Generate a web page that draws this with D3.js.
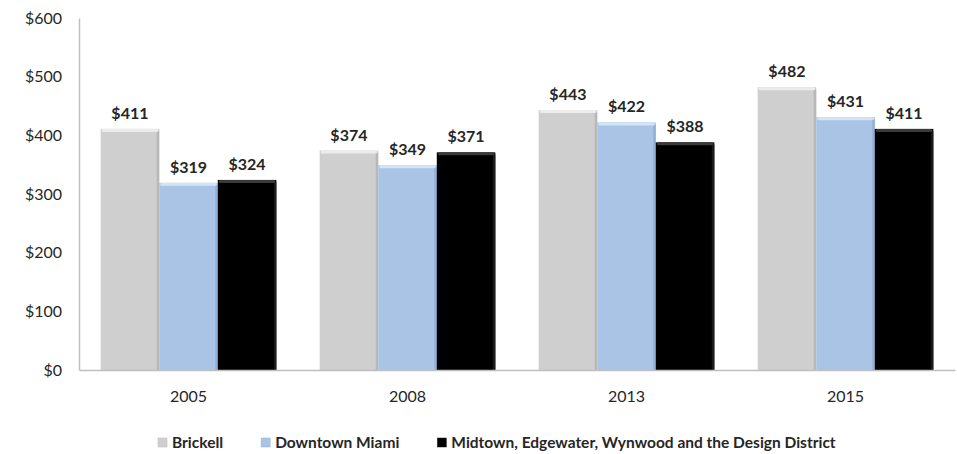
<!DOCTYPE html>
<html>
<head>
<meta charset="utf-8">
<script src="https://cdn.jsdelivr.net/npm/d3@7"></script>
<style>
  body { margin: 0; background: #fff; }
  text { font-family: Lato, "Open Sans", sans-serif; fill: #262626; }
</style>
</head>
<body>
<div id="chart-area"></div>
<script>
// chart data
var years = ["2005", "2008", "2013", "2015"];
var seriesNames = ["Brickell", "Downtown Miami", "Midtown, Edgewater, Wynwood and the Design District"];
var brickell = [411, 374, 443, 482];
var downtown = [319, 349, 422, 431];
var midtown = [324, 371, 388, 411];
var yTicks = [0, 100, 200, 300, 400, 500, 600];

var seriesValues = [brickell, downtown, midtown];

// colours per series: fill, top edge, side shade
var colors = [
  { fill: "#cfcfcf", top: "#ececec", side: "#b8b8b8" },
  { fill: "#a9c4e5", top: "#d3e4f5", side: "#92b1d8" },
  { fill: "#000000", top: "#3a3a3a", side: "#1a1a1a" }
];

var margin = { left: 79, right: 2, top: 18, bottom: 84 };
var width = 957 - margin.left - margin.right;
var height = 454 - margin.top - margin.bottom;

var svg = d3.select("#chart-area").append("svg")
  .attr("width", 957)
  .attr("height", 454);

var g = svg.append("g")
  .attr("transform", "translate(" + margin.left + "," + margin.top + ")");

// X scales
var x0 = d3.scaleBand()
  .domain(years)
  .range([0, width])
  .paddingInner(0)
  .paddingOuter(0);

var x1 = d3.scaleBand()
  .domain(d3.range(seriesNames.length))
  .range([0, x0.bandwidth()])
  .paddingInner(0)
  .paddingOuter(0.37);

// Y scale
var y = d3.scaleLinear()
  .domain([0, 600])
  .range([height, 0]);

// Y axis
var yAxisCall = d3.axisLeft(y)
  .tickValues(yTicks)
  .tickSize(0)
  .tickPadding(17)
  .tickFormat(function(d) { return "$" + d; });
var yAxis = g.append("g")
  .attr("class", "y axis")
  .call(yAxisCall);
yAxis.select(".domain").attr("stroke", "#bfbfbf").attr("stroke-width", 1.5);
yAxis.selectAll("text")
  .attr("font-size", "16px")
  .style("font-family", "Lato, 'Open Sans', sans-serif")
  .attr("fill", "#222");

// bars
var rows = [];
years.forEach(function(yr, i) {
  seriesValues.forEach(function(vals, s) {
    rows.push({ year: yr, s: s, value: vals[i] });
  });
});

var bars = g.selectAll("g.bar")
  .data(rows)
  .enter()
  .append("g")
  .attr("class", "bar")
  .attr("transform", function(d) {
    return "translate(" + (x0(d.year) + x1(d.s)) + ",0)";
  });

bars.append("rect")
  .attr("y", function(d) { return y(d.value); })
  .attr("width", x1.bandwidth())
  .attr("height", function(d) { return height - y(d.value); })
  .attr("fill", function(d) { return colors[d.s].fill; });

// right side shade
bars.append("rect")
  .attr("x", x1.bandwidth() - 2.5)
  .attr("y", function(d) { return y(d.value) + 2; })
  .attr("width", 2.5)
  .attr("height", function(d) { return height - y(d.value) - 2; })
  .attr("fill", function(d) { return colors[d.s].side; });

// top bevel
bars.append("rect")
  .attr("x", 1)
  .attr("y", function(d) { return y(d.value); })
  .attr("width", x1.bandwidth() - 2)
  .attr("height", 3)
  .attr("rx", 1.5)
  .attr("fill", function(d) { return colors[d.s].top; });

// value labels
bars.append("text")
  .attr("x", x1.bandwidth() / 2)
  .attr("y", function(d) { return y(d.value) - 10; })
  .attr("text-anchor", "middle")
  .attr("font-size", "16px")
  .attr("font-weight", "bold")
  .attr("fill", "#111")
  .text(function(d) { return "$" + d.value; });

// X axis
var xAxisCall = d3.axisBottom(x0)
  .tickSize(0)
  .tickPadding(21);
var xAxis = g.append("g")
  .attr("class", "x axis")
  .attr("transform", "translate(0," + height + ")")
  .call(xAxisCall);
xAxis.select(".domain").attr("stroke", "#bfbfbf").attr("stroke-width", 1.5);
xAxis.selectAll("text")
  .attr("font-size", "16px")
  .style("font-family", "Lato, 'Open Sans', sans-serif")
  .attr("fill", "#222");

// legend
var legend = svg.append("g")
  .attr("class", "legend")
  .attr("transform", "translate(158,443)");

var lx = 0;
seriesNames.forEach(function(name, s) {
  var item = legend.append("g").attr("transform", "translate(" + lx + ",0)");
  item.append("rect")
    .attr("x", 0)
    .attr("y", -5)
    .attr("width", 9)
    .attr("height", 9)
    .attr("fill", colors[s].fill)
    .attr("stroke", colors[s].side)
    .attr("stroke-width", 0.5);
  var t = item.append("text")
    .attr("x", 14)
    .attr("y", 5)
    .attr("font-size", "15.5px")
    .attr("font-weight", "bold")
    .attr("fill", "#111")
    .text(name);
  lx += 14 + t.node().getComputedTextLength() + 38;
});
</script>
</body>
</html>
